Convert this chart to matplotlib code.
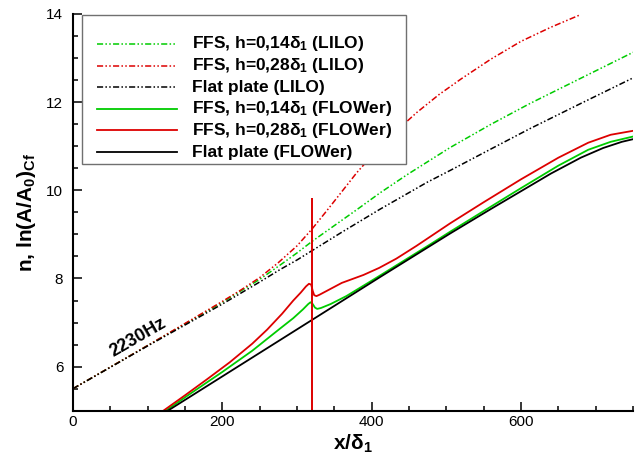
import matplotlib
matplotlib.use("Agg")
import matplotlib.pyplot as plt
from matplotlib.ticker import MultipleLocator
from matplotlib.patches import Rectangle

plt.rcParams['font.family'] = ['Liberation Sans', 'DejaVu Sans']
plt.rcParams['mathtext.fontset'] = 'custom'
plt.rcParams['mathtext.rm'] = 'Liberation Sans'
plt.rcParams['mathtext.bf'] = 'Liberation Sans:bold'
plt.rcParams['mathtext.default'] = 'bf'

# LILO (linear stability) N-factor curves
x_lilo_ffs14 = [0, 100, 200, 250, 277, 300, 320, 350, 380, 411, 447, 505, 560, 612, 675, 750]
y_lilo_ffs14 = [5.5, 6.48, 7.46, 7.98, 8.30, 8.58, 8.84, 9.2, 9.56, 9.94, 10.35, 10.97, 11.5, 11.97, 12.5, 13.13]

x_lilo_ffs28 = [0, 100, 200, 225, 250, 275, 300, 320, 340, 360, 380, 400, 430, 460, 490, 520, 560, 600, 640, 679]
y_lilo_ffs28 = [5.5, 6.48, 7.48, 7.74, 8.02, 8.36, 8.74, 9.12, 9.54, 9.97, 10.4, 10.78, 11.3, 11.76, 12.17, 12.53, 12.98, 13.38, 13.7, 13.98]

x_lilo_flat = [0, 100, 200, 250, 277, 300, 320, 360, 411, 474, 505, 560, 612, 680, 750]
y_lilo_flat = [5.5, 6.47, 7.42, 7.92, 8.2, 8.42, 8.63, 9.05, 9.57, 10.18, 10.45, 10.94, 11.4, 11.97, 12.55]

# FLOWer curves
x_flw_ffs14 = [124, 160, 200, 240, 277, 295, 308, 315, 318, 321, 324, 327, 332, 345, 366, 400, 440, 478, 505,
               550, 600, 650, 690, 720, 750]
y_flw_ffs14 = [5.0, 5.42, 5.88, 6.36, 6.86, 7.1, 7.3, 7.42, 7.46, 7.42, 7.34, 7.31, 7.33, 7.42, 7.6, 7.95, 8.37,
               8.77, 9.06, 9.53, 10.05, 10.56, 10.92, 11.1, 11.22]

x_flw_ffs28 = [121, 150, 180, 210, 240, 260, 280, 295, 305, 312, 316, 319, 321, 323, 326, 330, 340, 360, 389,
               410, 433, 460, 505, 550, 600, 650, 690, 720, 750]
y_flw_ffs28 = [5.0, 5.35, 5.72, 6.1, 6.52, 6.84, 7.2, 7.5, 7.68, 7.82, 7.88, 7.86, 7.72, 7.62, 7.6, 7.63, 7.72,
               7.9, 8.08, 8.24, 8.45, 8.74, 9.25, 9.73, 10.25, 10.74, 11.08, 11.26, 11.35]

x_flw_flat = [127, 322, 411, 505, 560, 600, 640, 680, 710, 735, 750]
y_flw_flat = [5.0, 7.08, 8.03, 9.02, 9.58, 9.98, 10.38, 10.74, 10.96, 11.1, 11.16]

step_x = 320
spike_top = 9.83

labels = ['FFS, h=0,14δ$_1$ (LILO)', 'FFS, h=0,28δ$_1$ (LILO)', 'Flat plate (LILO)',
          'FFS, h=0,14δ$_1$ (FLOWer)', 'FFS, h=0,28δ$_1$ (FLOWer)', 'Flat plate (FLOWer)']

GREEN = '#00cc00'
RED = '#dd0000'
BLACK = '#000000'
dashdotdot = (0, (4, 1.5, 1, 1.5, 1, 1.5))

series = [
    (x_lilo_ffs14, y_lilo_ffs14, GREEN, dashdotdot, 1.1),
    (x_lilo_ffs28, y_lilo_ffs28, RED, dashdotdot, 1.1),
    (x_lilo_flat, y_lilo_flat, BLACK, dashdotdot, 1.1),
    (x_flw_ffs14, y_flw_ffs14, GREEN, '-', 1.3),
    (x_flw_ffs28, y_flw_ffs28, RED, '-', 1.3),
    (x_flw_flat, y_flw_flat, BLACK, '-', 1.3),
]

fig = plt.figure(figsize=(6.4, 4.59), dpi=100)
ax = fig.add_axes([0.1141, 0.1052, 0.875, 0.8643])

for (xs, ys, col, ls, lw), lab in zip(series, labels):
    ax.plot(xs, ys, color=col, ls=ls, lw=lw, label=lab)
ax.vlines(step_x, 5, spike_top, color=RED, lw=1.4)

ax.text(87, 6.65, '2230Hz', rotation=30, rotation_mode='anchor', ha='center', va='center',
        fontsize=13, fontweight='bold')

ax.set_xlim(0, 750)
ax.set_ylim(5, 14)
ax.xaxis.set_major_locator(MultipleLocator(200))
ax.xaxis.set_minor_locator(MultipleLocator(50))
ax.yaxis.set_major_locator(MultipleLocator(2))
ax.yaxis.set_minor_locator(MultipleLocator(0.5))
ax.tick_params(which='both', direction='in', width=1.1, labelsize=11)
ax.tick_params(which='major', length=6.5)
ax.tick_params(which='minor', length=3.6)
ax.tick_params(axis='y', pad=7)
ax.tick_params(axis='x', pad=3)
ax.spines['top'].set_visible(False)
ax.spines['right'].set_visible(False)
ax.spines['left'].set_linewidth(1.5)
ax.spines['bottom'].set_linewidth(1.5)

ax.set_xlabel('x/δ$_1$', fontsize=15, fontweight='bold', labelpad=3)
ax.set_ylabel('n, ln(A/A$_0$)$_{Cf}$', fontsize=15, fontweight='bold', labelpad=6)

# legend drawn by hand so the rows are evenly spaced like the original
ax.add_patch(Rectangle((0.0161, 0.6219), 0.5785, 0.3756, transform=ax.transAxes,
                       facecolor='white', edgecolor='#707070', lw=1.0, zorder=5))
row_top = 0.9244
row_step = 0.0545
for i, ((xs, ys, col, ls, lw), lab) in enumerate(zip(series, labels)):
    yy = row_top - i * row_step
    ax.plot([0.0429, 0.1857], [yy, yy], transform=ax.transAxes, color=col,
            lw=lw, ls=ls, zorder=6, clip_on=False)
    ax.text(0.2125, yy, lab, transform=ax.transAxes, ha='left', va='center',
            fontsize=12.5, fontweight='bold', zorder=6)

fig.savefig('out.png', dpi=100)
